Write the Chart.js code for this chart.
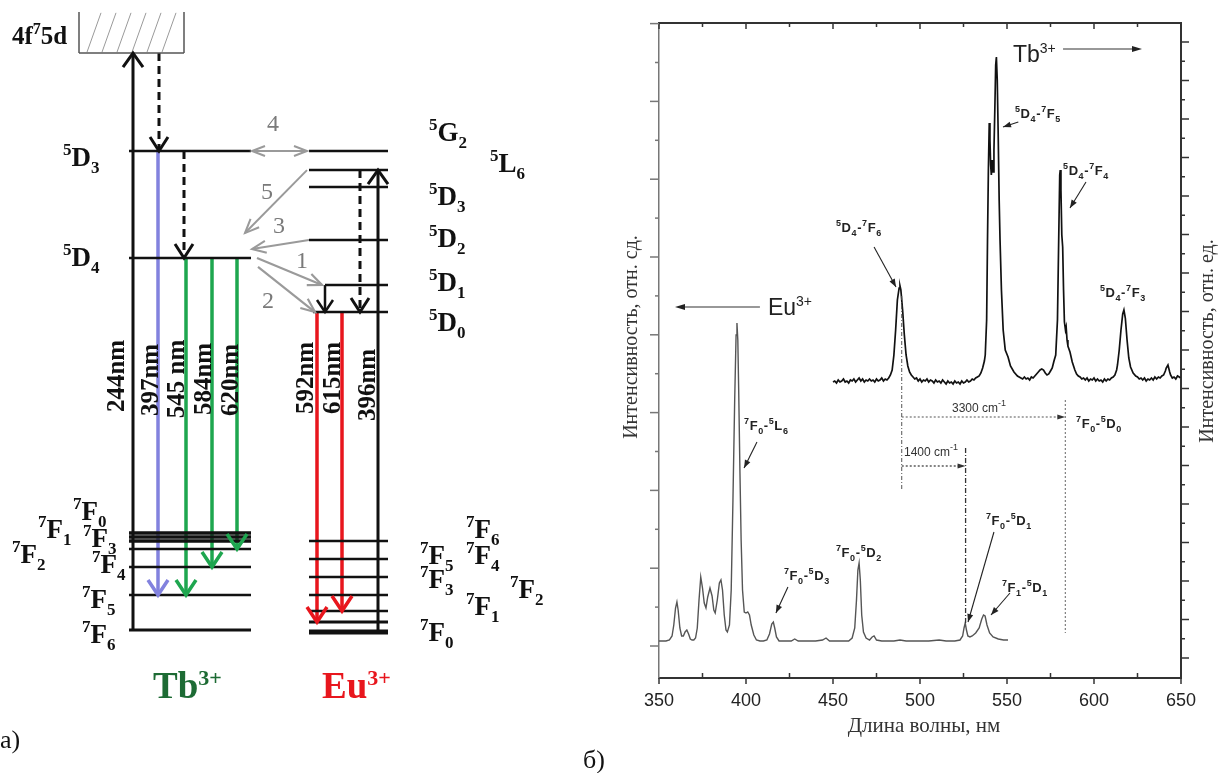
<!DOCTYPE html>
<html><head><meta charset="utf-8">
<script src="https://cdn.jsdelivr.net/npm/chart.js@4.4.1/dist/chart.umd.min.js"></script>
<style>
html,body{margin:0;padding:0;background:#fff;width:1224px;height:773px;overflow:hidden}
#wa{position:absolute;left:0;top:0;width:580px;height:773px}
#wb{position:absolute;left:540px;top:0;width:684px;height:773px}
</style></head><body>
<div id="wa"><canvas id="ca"></canvas></div>
<div id="wb"><canvas id="cb"></canvas></div>
<script>
// ===================== DATA: panel б (spectra) =====================
const xTickLabels = [350, 400, 450, 500, 550, 600, 650];
const leftTitle = 'Интенсивность, отн. сд.';
const rightTitle = 'Интенсивность, отн. ед.';
const xTitle = 'Длина волны, нм';

const euWavelength = [
  350,352,354,356,357.5,358.5,359.5,360.3,361,362,
  363,364,365,366,367,368,369,370,371,372,
  373,374,375,376,377,378,379.3,380.5,381.5,382.3,
  383.5,384.7,385.6,386.5,387.5,388.5,389.3,390.5,391.5,392.5,
  393.5,394.3,394.8,395.3,395.8,396.5,397.2,398,399,400,
  401,402,403,404.5,406,408,410,412,413.5,414.8,
  415.7,416.5,417.5,419,422,426,428,430,435,440,
  444,446,448,452,456,459,461,462.5,463.5,464.3,
  465,465.7,466.5,467.5,469,471,472.5,473.6,475,478,
  485,488.5,492,500,505,511,515,520,523,524.5,
  525.3,526,526.7,527.5,528.7,530,532,534,535.5,536.5,
  537.4,538.5,540,542,545,548,550.6];
const euIntensity = [
  5,5,5,6,10,21,38,44,36,18,
  10,10,14,16,12,7,6,6,8,18,
  46,69,58,43,38,49,58,50,36,33,
  46,63,66,56,31,16,14,21,56,146,
  246,311,323,306,256,176,106,56,34,33,
  34,31,21,11,6,5,5,6,12,22,
  24,18,9,5,5,5,7,5,5,5,
  6,8,5,5,5,5,8,18,46,76,
  83,66,31,14,8,6,9,10,6,5,
  5,6,5,5,5,6,5,5,6,10,
  18,23,16,10,9,10,13,18,27,31,
  30,21,13,9,7,6,6];

const tbWavelength = [
  450,451,452,453,454,455,456,457,458,459,
  460,461,462,463,464,465,466,467,468,469,
  470,471,472,473,474,475,476,477,478,479,
  480,481,482,483,484,485,486,487,488,488.5,
  489,490,491,492,493,494,495,496,497,498,
  499,500,501,502,503,504,505,506,507,508,
  509,510,511,512,513,514,515,516,517,518,
  519,520,521,522,523,524,525,526,527,528,
  529,530,531,532,533,534,535,536,537,537.5,
  538.3,538.8,539.3,539.8,540.2,540.6,541,541.5,542,542.5,
  543,543.5,543.9,544.4,544.9,545.5,546,546.8,547.8,549,
  550.6,552,554,556,558,559,560,561,562,563,
  564,565,566,567,568,569,570,571,572,573,
  574,575,576,577,578,579,579.8,580.3,580.6,581,
  581.5,582,582.5,583,583.6,584,584.5,585,586.2,587.5,
  589,590,591,592,593,594,595,596,597,598,
  599,600,601,602,603,604,605,606,607,608,
  609,610,611,612,613,613.5,614.5,615.5,616.5,617.2,
  618,619,620,621,622.5,624,625,626,627,628,
  629,630,631,632,633,634,635,636,637,638,
  639,640,641,641.5,642.5,643.5,644,645,646,647,
  648,649,649.5];
const tbIntensity = [
  276,277,275,278,276,277,279,276,277,275,
  278,277,279,276,278,280,277,279,276,278,
  277,279,277,278,276,279,277,278,280,277,
  279,278,280,283,288,303,328,358,370,372,
  368,348,323,303,292,286,283,281,279,280,
  277,279,276,278,277,279,276,278,277,275,
  278,276,277,275,278,276,274,277,275,276,
  274,277,275,276,274,277,275,276,278,276,
  277,279,278,280,281,282,285,290,297,303,
  338,418,488,535,518,493,483,498,486,508,
  548,593,601,578,528,458,418,368,328,308,
  301,292,286,282,280,279,281,279,280,278,
  281,280,282,284,286,288,289,288,285,283,
  284,287,290,297,303,338,428,483,488,468,
  423,411,368,336,328,331,318,312,306,296,
  288,284,282,281,279,280,278,280,277,279,
  278,280,277,279,277,278,276,279,277,279,
  278,280,281,283,288,293,308,328,344,348,
  340,318,300,291,285,282,281,279,280,278,
  280,277,279,278,280,278,281,279,281,280,
  282,283,287,290,293,286,283,280,281,279,
  282,281,280];

// ===================== DATA: panel а (energy levels, 10^3 cm^-1, schematic) =====================
const tbLevelNames  = ['7F6','7F5','7F4','7F3','7F2','7F1','7F0','5D4','5D3'];
const tbLevelEnergy = [0, 1.92, 3.46, 4.45, 4.89, 5.11, 5.33, 20.44, 26.32];
const tbBandName = '4f75d';
const tbBandBottom = 31.70;
const tbBandTop = 33.96;
const euLevelNames  = ['7F0','7F1','7F2','7F3','7F4','7F5','7F6','5D0','5D1','5D2','5D3','5L6','5G2'];
const euLevelEnergy = [-0.11, 0.44, 1.04, 1.92, 2.91, 3.90, 4.89, 17.47, 18.96, 21.43, 24.34, 25.27, 26.32];
const tbEmissionLabels = ['397nm','545 nm','584nm','620nm'];
const tbEmissionFrom   = ['5D3','5D4','5D4','5D4'];
const tbEmissionTo     = ['7F5','7F5','7F4','7F3'];
const euEmissionLabels = ['592nm','615nm'];
const euEmissionFrom   = ['5D0','5D0'];
const euEmissionTo     = ['7F1','7F2'];
const excitationLabels = ['244nm','396nm'];
const transferLabels   = ['1','2','3','4','5'];

// ===================== LAYOUT & STYLE (panel а) =====================
const SERIF = '"Liberation Serif","Times New Roman",serif';
const SANS = '"Liberation Sans",Arial,sans-serif';
const LA = {
  pxPerUnit: 18.2, zeroPx: 630, height: 773, width: 580,
  tbX: [129, 251], euX: [309, 388], euStart: {'5D1': 325, '5D0': 313},
  tbW: {'7F0': 3.5, '7F1': 3.5, '7F2': 3.5, '7F6': 3}, euW: {'7F0': 5, '7F1': 3},
  bandX: [79, 184],
  tbEmX: [158, 186, 212, 237], tbEmColor: ['#8282de', '#1ea64f', '#1ea64f', '#1ea64f'],
  euEmX: [317, 342], euEmColor: '#e8161d',
  exX: [133, 378],
  gray: '#9a9a9a',
  tbLabelPos: {'5D3':[63,166],'5D4':[63,266],'7F0':[73,520],'7F1':[38,538],'7F3':[83,547],'7F2':[12,563],'7F4':[92,573],'7F5':[82,608],'7F6':[82,643]},
  euLabelPos: {'5G2':[429,141],'5L6':[490,172],'5D3':[429,205],'5D2':[429,247],'5D1':[429,291],'5D0':[429,331],'7F6':[466,538],'7F5':[420,564],'7F4':[466,564],'7F3':[420,588],'7F2':[510,598],'7F1':[466,615],'7F0':[420,641]},
  tbEmLabelPos: [[152,380],[178,379],[205,379],[232,380]],
  euEmLabelPos: [[307,378],[334,378]],
  exLabelPos: [[118,376],[369,385]],
  transferLabelPos: {'1':[302,262],'2':[268,302],'3':[279,227],'4':[273,125],'5':[267,193]}
};

// ===================== helpers =====================
function parseRich(s){
  const parts=[];
  for(let i=0;i<s.length;i++){
    const c=s[i];
    if(c==='^'||c==='_'){
      const k = c==='^'?1:-1;
      if(s[i+1]==='{'){ const j=s.indexOf('}',i); parts.push([s.slice(i+2,j),k]); i=j; }
      else { parts.push([s[i+1],k]); i++; }
    } else {
      if(parts.length && parts[parts.length-1][1]===0) parts[parts.length-1][0]+=c; else parts.push([c,0]);
    }
  }
  return parts;
}
function levelRich(n){ return '^'+n[0]+n[1]+'_'+n.slice(2); }
function drawRich(ctx,x,y,str,o){
  const parts=parseRich(str); let w=0;
  const fm=parts.map(p=>{ const f=(o.weight||'normal')+' '+(p[1]?o.small:o.size)+'px '+o.family; ctx.font=f; const pw=ctx.measureText(p[0]).width; w+=pw; return [f,pw]; });
  let cx = o.align==='center'? x-w/2 : x;
  ctx.fillStyle=o.color||'#111'; ctx.textAlign='left'; ctx.textBaseline='alphabetic';
  parts.forEach((p,i)=>{ ctx.font=fm[i][0]; const dy=p[1]===1?-o.up:(p[1]===-1?o.down:0); ctx.fillText(p[0],cx,y+dy); cx+=fm[i][1]+(o.gap||0); });
}
function seg(ctx,x1,y1,x2,y2,color,w,dash){
  ctx.save(); ctx.beginPath(); ctx.setLineDash(dash||[]); ctx.strokeStyle=color; ctx.lineWidth=w;
  ctx.moveTo(x1,y1); ctx.lineTo(x2,y2); ctx.stroke(); ctx.restore();
}
function chevron(ctx,tx,ty,fx,fy,len,hw,color,lw){
  const a=Math.atan2(ty-fy,tx-fx), bx=tx-len*Math.cos(a), by=ty-len*Math.sin(a), nx=-Math.sin(a), ny=Math.cos(a);
  ctx.save(); ctx.setLineDash([]); ctx.strokeStyle=color; ctx.lineWidth=lw; ctx.lineJoin='miter'; ctx.lineCap='butt';
  ctx.beginPath(); ctx.moveTo(bx+nx*hw,by+ny*hw); ctx.lineTo(tx,ty); ctx.lineTo(bx-nx*hw,by-ny*hw); ctx.stroke(); ctx.restore();
}
function tri(ctx,tx,ty,fx,fy,len,hw,color){
  const a=Math.atan2(ty-fy,tx-fx), bx=tx-len*Math.cos(a), by=ty-len*Math.sin(a), nx=-Math.sin(a), ny=Math.cos(a);
  ctx.save(); ctx.fillStyle=color; ctx.beginPath(); ctx.moveTo(tx,ty); ctx.lineTo(bx+nx*hw,by+ny*hw); ctx.lineTo(bx-nx*hw,by-ny*hw); ctx.closePath(); ctx.fill(); ctx.restore();
}

// ===================== panel а: energy diagram =====================
const tbE = n => tbLevelEnergy[tbLevelNames.indexOf(n)];
const euE = n => euLevelEnergy[euLevelNames.indexOf(n)];
const diagSets = [];
function addLine(x1,y1,x2,y2,color,w,extra){
  diagSets.push(Object.assign({data:[{x:x1,y:y1},{x:x2,y:y2}],showLine:true,borderColor:color,borderWidth:w,pointRadius:0,fill:false,borderCapStyle:'butt'},extra||{}));
}
tbLevelNames.forEach((n,i)=>addLine(LA.tbX[0],tbLevelEnergy[i],LA.tbX[1],tbLevelEnergy[i],'#111',LA.tbW[n]||2.5));
euLevelNames.forEach((n,i)=>addLine(LA.euStart[n]||LA.euX[0],euLevelEnergy[i],LA.euX[1],euLevelEnergy[i],'#111',LA.euW[n]||2.5));
// 4f75d band box with hatching
addLine(LA.bandX[0],tbBandBottom,LA.bandX[1],tbBandBottom,'#555',1.5);
addLine(LA.bandX[0],tbBandBottom,LA.bandX[0],tbBandTop,'#555',1.5);
addLine(LA.bandX[1],tbBandBottom,LA.bandX[1],tbBandTop,'#555',1.5);
for(let k=0;k<6;k++) addLine(87+15*k,tbBandBottom+0.05,101+15*k,tbBandTop-0.05,'#9a9a9a',1);
// excitation arrows
addLine(LA.exX[0],tbE('7F6'),LA.exX[0],tbBandBottom,'#111',3,{head:'end',hl:14,hw:10});
addLine(LA.exX[1],euE('7F0'),LA.exX[1],euE('5L6'),'#111',3,{head:'end',hl:14,hw:10});
// non-radiative relaxation
addLine(159,tbBandBottom,159,tbE('5D3'),'#111',3,{borderDash:[8,5],head:'end',hl:14,hw:9});
addLine(184,tbE('5D3'),184,tbE('5D4'),'#111',3,{borderDash:[8,5],head:'end',hl:14,hw:9});
addLine(360,euE('5L6'),360,euE('5D0'),'#111',3,{borderDash:[8,5],head:'end',hl:14,hw:9});
addLine(325,euE('5D1'),325,euE('5D0'),'#111',2.5,{head:'end',hl:12,hw:8});
// emissions
tbEmissionLabels.forEach((lab,i)=>addLine(LA.tbEmX[i],tbE(tbEmissionFrom[i]),LA.tbEmX[i],tbE(tbEmissionTo[i]),LA.tbEmColor[i],3.5,{head:'end',hl:15,hw:10}));
euEmissionLabels.forEach((lab,i)=>addLine(LA.euEmX[i],euE(euEmissionFrom[i]),LA.euEmX[i],euE(euEmissionTo[i]),LA.euEmColor,3.5,{head:'end',hl:15,hw:10}));
// energy transfer (gray)
addLine(252,tbE('5D3'),307,euE('5G2'),LA.gray,2,{head:'both',hl:13,hw:5});
addLine(307,euE('5L6'),245,21.81,LA.gray,2,{head:'end',hl:14,hw:6});
addLine(309,euE('5D2'),252,20.93,LA.gray,2,{head:'end',hl:14,hw:6});
addLine(257,tbE('5D4'),322,euE('5D1'),LA.gray,2.2,{head:'end',hl:14,hw:6});
addLine(258,19.95,315,euE('5D0'),LA.gray,2.2,{head:'end',hl:14,hw:6});

const diagDeco = {
  id:'diagDeco',
  afterDatasetsDraw(chart){
    const ctx=chart.ctx;
    chart.data.datasets.forEach((ds,i)=>{
      if(!ds.head) return;
      const p=chart.getDatasetMeta(i).data, a=p[0], b=p[p.length-1];
      chevron(ctx,b.x,b.y,a.x,a.y,ds.hl,ds.hw,ds.borderColor,ds.borderWidth);
      if(ds.head==='both') chevron(ctx,a.x,a.y,b.x,b.y,ds.hl,ds.hw,ds.borderColor,ds.borderWidth);
    });
    const lev={family:SERIF,weight:'bold',size:27,small:17,up:11,down:7,color:'#111'};
    tbLevelNames.forEach(n=>{ const p=LA.tbLabelPos[n]; if(p) drawRich(ctx,p[0],p[1],levelRich(n),lev); });
    euLevelNames.forEach(n=>{ const p=LA.euLabelPos[n]; if(p) drawRich(ctx,p[0],p[1],levelRich(n),lev); });
    drawRich(ctx,12,44,'4f^75d',{family:SERIF,weight:'bold',size:25,small:16,up:10,down:0,color:'#111'});
    // wavelength labels (rotated)
    ctx.save(); ctx.font='bold 25px '+SERIF; ctx.fillStyle='#111'; ctx.textAlign='center'; ctx.textBaseline='middle';
    const rot=(t,x,y)=>{ ctx.save(); ctx.translate(x,y); ctx.rotate(-Math.PI/2); ctx.fillText(t,0,0); ctx.restore(); };
    tbEmissionLabels.forEach((t,i)=>rot(t,LA.tbEmLabelPos[i][0],LA.tbEmLabelPos[i][1]));
    euEmissionLabels.forEach((t,i)=>rot(t,LA.euEmLabelPos[i][0],LA.euEmLabelPos[i][1]));
    excitationLabels.forEach((t,i)=>rot(t,LA.exLabelPos[i][0],LA.exLabelPos[i][1]));
    ctx.restore();
    // transfer numbers
    ctx.save(); ctx.font='24px '+SERIF; ctx.fillStyle='#7a7a7a'; ctx.textAlign='center'; ctx.textBaseline='middle';
    transferLabels.forEach(t=>{ const p=LA.transferLabelPos[t]; ctx.fillText(t,p[0],p[1]); });
    ctx.restore();
    drawRich(ctx,153,698,'Tb^{3+}',{family:SERIF,weight:'bold',size:37,small:22,up:13,down:0,color:'#1d6b34'});
    drawRich(ctx,322,698,'Eu^{3+}',{family:SERIF,weight:'bold',size:37,small:22,up:13,down:0,color:'#e8161d'});
    ctx.save(); ctx.font='26px '+SERIF; ctx.fillStyle='#111'; ctx.textAlign='left'; ctx.textBaseline='alphabetic'; ctx.fillText('а)',0,748); ctx.restore();
  }
};

new Chart(document.getElementById('ca'),{
  type:'scatter',
  data:{datasets:diagSets},
  options:{
    responsive:true, maintainAspectRatio:false, animation:false,
    layout:{padding:0},
    plugins:{legend:{display:false},tooltip:{enabled:false}},
    scales:{
      x:{type:'linear',display:false,min:0,max:LA.width},
      y:{type:'linear',display:false,min:(LA.zeroPx-LA.height)/LA.pxPerUnit,max:LA.zeroPx/LA.pxPerUnit}
    }
  },
  plugins:[diagDeco]
});

// ===================== panel б: spectra =====================
const SB = {
  leftTickStep: 38.9, leftTicks: 16, rightTickStep: 19.25, rightTicks: 32,
  labels: [
    ['^5D_4-^7F_6',451.7,414,[473.6,399,486.2,359]],
    ['^5D_4-^7F_5',554.6,528,[556.5,524,547.7,519]],
    ['^5D_4-^7F_4',582.2,471,[595.4,464,586.2,438]],
    ['^5D_4-^7F_3',603.4,349,null],
    ['^7F_0-^5L_6',398.9,216,[406.3,204,398.9,178]],
    ['^7F_0-^5D_3',421.8,66,[424.1,59,417.2,33]],
    ['^7F_0-^5D_2',451.7,89,null],
    ['^7F_0-^5D_1',537.9,121,[542.5,114,527.6,24]],
    ['^7F_1-^5D_1',547.1,54,[551.7,53,540.8,31]],
    ['^7F_0-^5D_0',589.7,218,null]
  ]
};
const specDeco = {
  id:'specDeco',
  afterDraw(chart){
    const ctx=chart.ctx, a=chart.chartArea, X=chart.scales.x, Y=chart.scales.y, Y2=chart.scales.y2;
    const px=v=>X.getPixelForValue(v), py=v=>Y.getPixelForValue(v);
    seg(ctx,a.left-1,a.top,a.right+1,a.top,'#333',2);
    for(let v=350;v<=650;v+=25){
      const x=px(v), major=v%50===0;
      if(major) seg(ctx,x,a.bottom,x,a.bottom+6,'#333',1.5); else seg(ctx,x,a.bottom,x,a.bottom-5,'#333',1.5);
      seg(ctx,x,a.top,x,a.top+(major?6:4),'#333',1.5);
    }
    for(let k=0;k<=SB.leftTicks;k++){ const y=Y.getPixelForValue(SB.leftTickStep*k); seg(ctx,a.left,y,a.left-(k%2===0?9:4),y,'#777',1.5); }
    for(let k=0;k<=SB.rightTicks;k++){ const y=Y2.getPixelForValue(SB.rightTickStep*k); seg(ctx,a.right,y,a.right+(k%2===0?8:4),y,'#333',1.5); }
    // dotted construction lines
    seg(ctx,px(489.5),py(350),px(489.5),py(156),'#555',1,[4,2,1,2]);
    seg(ctx,px(526.2),py(198),px(526.2),py(23),'#333',1.3,[5,2,1,2]);
    seg(ctx,px(583.5),py(246),px(583.5),py(13),'#666',1,[2,2]);
    seg(ctx,px(489.5),py(229),px(583.5)-6,py(229),'#555',1,[2,2]);
    tri(ctx,px(583.5),py(229),px(489.5),py(229),8,2.5,'#333');
    seg(ctx,px(489.5),py(180),px(526.2)-6,py(180),'#333',1.2,[2,2]);
    tri(ctx,px(526.2),py(180),px(489.5),py(180),8,2.5,'#333');
    drawRich(ctx,px(518.4),py(234),'3300 cm^{-1}',{family:SANS,size:12,small:9,up:6,down:0,color:'#333'});
    drawRich(ctx,px(490.8),py(190),'1400 cm^{-1}',{family:SANS,size:12,small:9,up:6,down:0,color:'#333'});
    // peak labels
    SB.labels.forEach(l=>{
      drawRich(ctx,px(l[1]),py(l[2]),l[0],{family:SANS,weight:'bold',size:13,small:9,up:6,down:4,color:'#222',gap:0.6});
      if(l[3]){ const r=l[3]; seg(ctx,px(r[0]),py(r[1]),px(r[2]),py(r[3]),'#222',1.1); tri(ctx,px(r[2]),py(r[3]),px(r[0]),py(r[1]),8,3,'#222'); }
    });
    // ion arrows
    drawRich(ctx,px(553.4),py(584),'Tb^{3+}',{family:SANS,size:23,small:14,up:9,down:0,color:'#222'});
    seg(ctx,px(582.2),py(597),px(627.6)-6,py(597),'#333',1.2); tri(ctx,px(627.6),py(597),px(582.2),py(597),10,3,'#222');
    drawRich(ctx,px(412.6),py(331),'Eu^{3+}',{family:SANS,size:23,small:14,up:9,down:0,color:'#222'});
    seg(ctx,px(408),py(339),px(359.2)+6,py(339),'#333',1.2); tri(ctx,px(359.2),py(339),px(408),py(339),10,3,'#222');
    // axis titles
    ctx.save(); ctx.fillStyle='#333'; ctx.font='20px '+SERIF; ctx.textAlign='center'; ctx.textBaseline='middle';
    ctx.save(); ctx.translate(a.left-27,337); ctx.rotate(-Math.PI/2); ctx.fillText(leftTitle,0,0); ctx.restore();
    ctx.save(); ctx.translate(a.right+27,341); ctx.rotate(-Math.PI/2); ctx.fillText(rightTitle,0,0); ctx.restore();
    ctx.font='21px '+SERIF; ctx.textBaseline='alphabetic'; ctx.fillText(xTitle,(a.left+a.right)/2+4,732);
    ctx.font='26px '+SERIF; ctx.fillStyle='#111'; ctx.textAlign='left'; ctx.fillText('б)',43,768);
    ctx.restore();
  }
};

new Chart(document.getElementById('cb'),{
  type:'scatter',
  data:{datasets:[
    {label:'Eu3+',data:euWavelength.map((w,i)=>({x:w,y:euIntensity[i]})),yAxisID:'y',showLine:true,borderColor:'#555',borderWidth:1.4,pointRadius:0,tension:0},
    {label:'Tb3+',data:tbWavelength.map((w,i)=>({x:w,y:tbIntensity[i]})),yAxisID:'y2',showLine:true,borderColor:'#111',borderWidth:1.7,pointRadius:0,tension:0}
  ]},
  options:{
    responsive:true, maintainAspectRatio:false, animation:false,
    layout:{padding:{top:23,left:0,right:0,bottom:0}},
    plugins:{legend:{display:false},tooltip:{enabled:false}},
    scales:{
      x:{type:'linear',position:'bottom',min:350,max:650,
         afterBuildTicks:s=>{s.ticks=xTickLabels.map(v=>({value:v}));},
         ticks:{font:{family:SANS,size:18},color:'#222',padding:12,maxRotation:0,autoSkip:false},
         grid:{display:false,drawTicks:false},
         border:{color:'#333',width:2},
         afterFit:s=>{s.height=95;}},
      y:{type:'linear',position:'left',min:-32,max:623,
         ticks:{display:false},grid:{display:false,drawTicks:false},
         border:{color:'#777',width:1.5},
         afterFit:s=>{s.width=119;}},
      y2:{type:'linear',position:'right',min:-20,max:635,
         ticks:{display:false},grid:{display:false,drawTicks:false},
         border:{color:'#333',width:2},
         afterFit:s=>{s.width=43;}}
    }
  },
  plugins:[specDeco]
});
</script>
</body></html>
